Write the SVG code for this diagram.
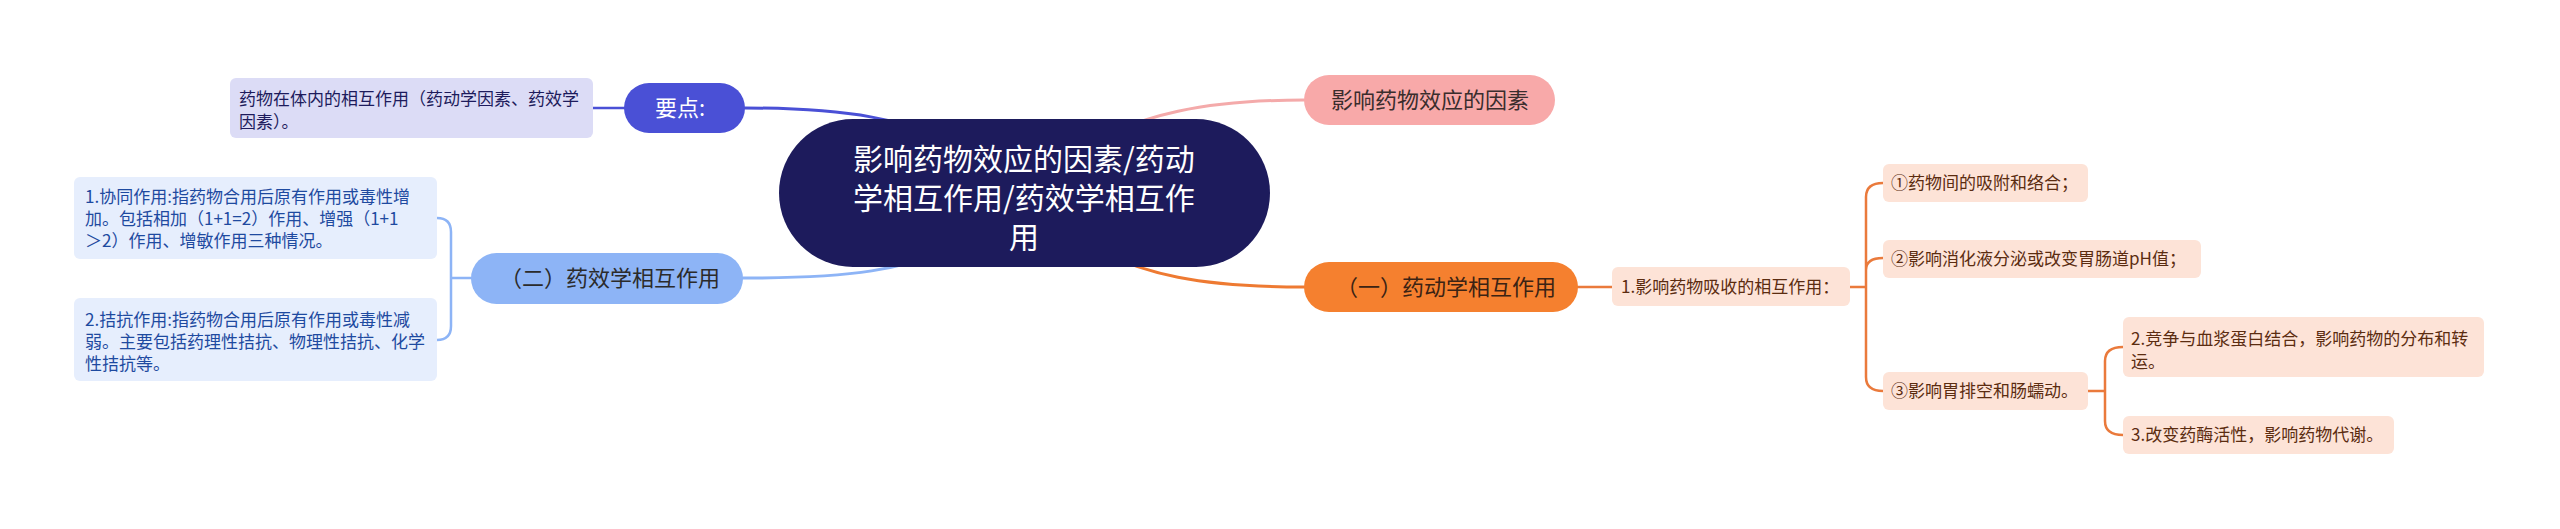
<svg xmlns="http://www.w3.org/2000/svg" width="2560" height="529" viewBox="0 0 2560 529">
<style>
text{font-family:"Noto Sans CJK SC","Noto Sans",sans-serif;}
.root{fill:#1d1b5c;}
.rt{fill:#ffffff;font-size:30px;text-anchor:middle;}
.kp{fill:#4a50d6;}
.kpt{fill:#ffffff;font-size:22px;text-anchor:middle;}
.lv{fill:#dcdcf6;}
.lvt{fill:#1d1b5c;font-size:17px;}
.lb{fill:#8db4f6;}
.lbt{fill:#2b2b2b;font-size:22px;text-anchor:middle;}
.lbl{fill:#e6eefd;}
.lblt{fill:#1e4aa0;font-size:17px;}
.pk{fill:#f8a9a9;}
.pkt{fill:#3a2d2d;font-size:22px;text-anchor:middle;}
.or{fill:#f5802f;}
.ort{fill:#3b2314;font-size:22px;text-anchor:middle;}
.pc{fill:#fde3d7;}
.pct{fill:#5b2c10;font-size:17px;}
.c{fill:none;stroke-width:3;stroke-linecap:round;}
.cs{fill:none;stroke-width:2.5;stroke-linecap:round;}
</style>
<rect width="2560" height="529" fill="#ffffff"/>
<g id="connectors">
<path class="c" stroke="#4a50d6" d="M980 160 C920 115 830 108 745 108"/>
<path class="cs" stroke="#4a50d6" d="M625 108 L593 108"/>
<path class="c" stroke="#f4aaaa" d="M1070 160 C1130 110 1220 100 1304 100"/>
<path class="c" stroke="#ee7a32" d="M1070 230 C1130 280 1220 287 1304 287"/>
<path class="c" stroke="#8db4f6" d="M980 230 C920 275 830 278 743 278"/>
<path class="cs" stroke="#8db4f6" d="M471 278 L451 278 M437 218 Q451 218 451 232 L451 326 Q451 340 437 340"/>
<path class="cs" stroke="#ea7a3c" d="M1578 287 L1612 287"/>
<path class="cs" stroke="#ea7a3c" d="M1850 287 L1866 287 M1883 183 Q1866 183 1866 197 L1866 377 Q1866 391 1883 391 M1866 270 Q1866 258 1883 258"/>
<path class="cs" stroke="#ea7a3c" d="M2088 391 L2105 391 M2123 347 Q2105 347 2105 361 L2105 421 Q2105 435 2123 435"/>
</g>
<g id="root">
<rect class="root" x="779" y="119" width="491" height="148" rx="74"/>
<text class="rt" x="1024" y="170">影响药物效应的因素/药动</text>
<text class="rt" x="1024" y="209">学相互作用/药效学相互作</text>
<text class="rt" x="1024" y="248">用</text>
</g>
<g id="keypoint">
<rect class="kp" x="624" y="83" width="121" height="50" rx="25"/>
<text class="kpt" x="680" y="116">要点:</text>
</g>
<g id="keypoint-leaf">
<rect class="lv" x="230" y="78" width="363" height="60" rx="6"/>
<text class="lvt" x="239" y="105">药物在体内的相互作用（药动学因素、药效学</text>
<text class="lvt" x="239" y="128">因素）。</text>
</g>
<g id="factors">
<rect class="pk" x="1304" y="75" width="251" height="50" rx="25"/>
<text class="pkt" x="1430" y="108">影响药物效应的因素</text>
</g>
<g id="pharmacodynamics">
<rect class="lb" x="471" y="253" width="272" height="51" rx="25.5"/>
<text class="lbt" x="610" y="286">（二）药效学相互作用</text>
</g>
<g id="synergy">
<rect class="lbl" x="74" y="177" width="363" height="82" rx="6"/>
<text class="lblt" x="85" y="203">1.协同作用:指药物合用后原有作用或毒性增</text>
<text class="lblt" x="85" y="225">加。包括相加（1+1=2）作用、增强（1+1</text>
<text class="lblt" x="85" y="247">＞2）作用、增敏作用三种情况。</text>
</g>
<g id="antagonism">
<rect class="lbl" x="74" y="298" width="363" height="83" rx="6"/>
<text class="lblt" x="85" y="326">2.拮抗作用:指药物合用后原有作用或毒性减</text>
<text class="lblt" x="85" y="348">弱。主要包括药理性拮抗、物理性拮抗、化学</text>
<text class="lblt" x="85" y="370">性拮抗等。</text>
</g>
<g id="pharmacokinetics">
<rect class="or" x="1304" y="262" width="274" height="50" rx="25"/>
<text class="ort" x="1446" y="295">（一）药动学相互作用</text>
</g>
<g id="absorption">
<rect class="pc" x="1612" y="267" width="238" height="39" rx="6"/>
<text class="pct" x="1621" y="293">1.影响药物吸收的相互作用：</text>
</g>
<g id="item1">
<rect class="pc" x="1883" y="164" width="205" height="38" rx="6"/>
<text class="pct" x="1891" y="189">①药物间的吸附和络合；</text>
</g>
<g id="item2">
<rect class="pc" x="1883" y="240" width="318" height="38" rx="6"/>
<text class="pct" x="1891" y="265">②影响消化液分泌或改变胃肠道pH值；</text>
</g>
<g id="item3">
<rect class="pc" x="1883" y="372" width="205" height="38" rx="6"/>
<text class="pct" x="1891" y="397">③影响胃排空和肠蠕动。</text>
</g>
<g id="protein-binding">
<rect class="pc" x="2123" y="317" width="361" height="60" rx="6"/>
<text class="pct" x="2131" y="345">2.竞争与血浆蛋白结合，影响药物的分布和转</text>
<text class="pct" x="2131" y="368">运。</text>
</g>
<g id="enzyme">
<rect class="pc" x="2123" y="416" width="271" height="38" rx="6"/>
<text class="pct" x="2131" y="441">3.改变药酶活性，影响药物代谢。</text>
</g>
</svg>
